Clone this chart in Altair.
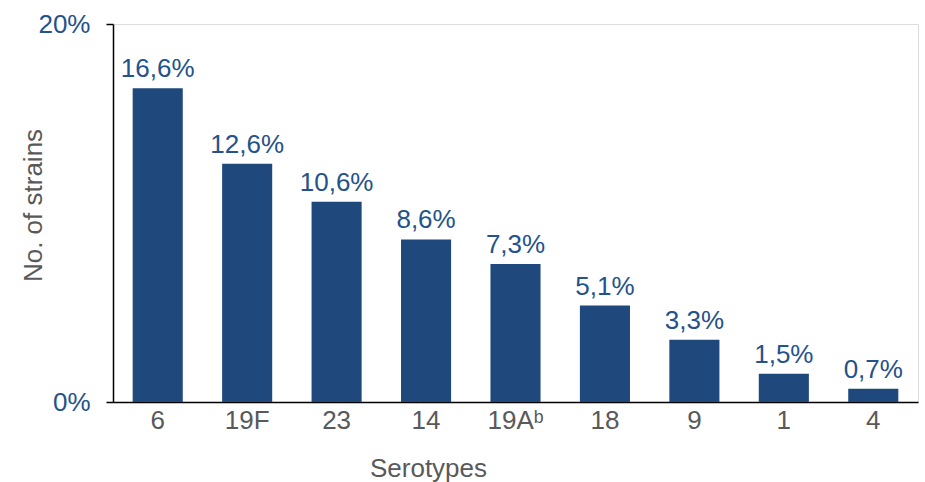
import altair as alt
import pandas as pd

serotypes = ["6", "19F", "23", "14", "19Aᵇ", "18", "9", "1", "4"]
shares = [16.6, 12.6, 10.6, 8.6, 7.3, 5.1, 3.3, 1.5, 0.7]
labels = ["16,6%", "12,6%", "10,6%", "8,6%", "7,3%", "5,1%", "3,3%", "1,5%", "0,7%"]

df = pd.DataFrame({"serotype": serotypes, "share": shares, "label": labels})

BLUE = "#1F497D"
TEXT_BLUE = "#24528A"
FONT = "Liberation Sans"

x = alt.X(
    "serotype:N",
    sort=serotypes,
    scale=alt.Scale(paddingInner=0.44, paddingOuter=0.22),
    axis=alt.Axis(
        title="Serotypes",
        titleFont=FONT, titleFontSize=26, titleFontWeight="normal", titleColor="#595959",
        titleX=315, titleY=66, titleAlign="center", titleBaseline="middle",
        labelFont=FONT, labelFontSize=26, labelColor="#595959", labelAngle=0, labelPadding=5,
        ticks=False, domainColor="#000000", domainWidth=1.5,
    ),
)
y = alt.Y(
    "share:Q",
    scale=alt.Scale(domain=[0, 20], nice=False),
    axis=alt.Axis(
        title="No. of strains", values=[0, 20], labelExpr="datum.value + '%'",
        titleFont=FONT, titleFontSize=26, titleFontWeight="normal", titleColor="#595959",
        titleAngle=270, titleX=-80, titleY=181, titleAlign="center", titleBaseline="middle",
        labelFont=FONT, labelFontSize=26, labelColor=TEXT_BLUE, labelPadding=16,
        tickColor="#000000", tickSize=7, tickWidth=1.5,
        domainColor="#000000", domainWidth=1.5, grid=False,
    ),
)

bars = alt.Chart(df).mark_bar(color=BLUE).encode(x=x, y=y)
text = alt.Chart(df).mark_text(
    baseline="bottom", dy=-6, font=FONT, fontSize=26, color=TEXT_BLUE
).encode(x=alt.X("serotype:N", sort=serotypes), y="share:Q", text="label:N")

chart = (
    alt.layer(bars, text)
    .properties(width=805, height=378, autosize=alt.AutoSizeParams(type="none"),
                padding={"left": 113, "top": 24, "right": 7, "bottom": 80})
    .configure_view(stroke=None)
    .configure(background="white")
)
chart.save("out.html", embed_options={"renderer": "svg", "actions": False})
